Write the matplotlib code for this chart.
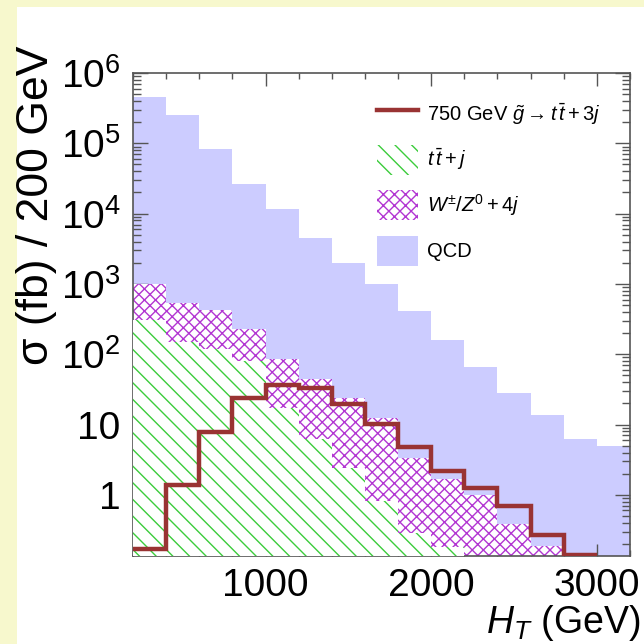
import numpy as np
import matplotlib
matplotlib.use("Agg")
import matplotlib.pyplot as plt
from matplotlib.patches import Rectangle, Patch
from matplotlib.lines import Line2D
from matplotlib.ticker import FixedLocator, NullFormatter

plt.rcParams["font.family"] = ["Liberation Sans", "DejaVu Sans"]
plt.rcParams["mathtext.fontset"] = "custom"
plt.rcParams["mathtext.rm"] = "Liberation Sans"
plt.rcParams["mathtext.it"] = "Liberation Sans:italic"
plt.rcParams["mathtext.bf"] = "Liberation Sans:bold"
plt.rcParams["hatch.linewidth"] = 1.0

# H_T bins (GeV), 200 GeV wide
ht_edges = [200, 400, 600, 800, 1000, 1200, 1400, 1600, 1800, 2000,
            2200, 2400, 2600, 2800, 3000, 3200]

# cross sections per bin (fb / 200 GeV)
qcd = [4.5e5, 2.5e5, 8.3e4, 2.65e4, 1.16e4, 4.5e3, 2.0e3, 1.0e3,
       4.1e2, 1.6e2, 65, 28, 13.6, 6.2, 5.0]
wz_4j = [1.0e3, 5.3e2, 4.3e2, 2.25e2, 85, 44, 23.5, 12.4, 3.3, 1.7,
         0.98, 0.39, 0.19]
ttbar_j = [3.1e2, 1.5e2, 1.2e2, 80, 17, 6.3, 2.4, 0.83, 0.29, 0.18]
gluino_750 = [0.17, 1.4, 7.8, 24, 37, 33, 19.3, 10.1, 4.8, 2.2,
              1.24, 0.70, 0.27, 0.138]

c_qcd = "#ccccff"
c_wz = "#b236d2"
c_tt = "#3ccc3c"
c_sig = "#993333"
c_axis = "#555555"

fig = plt.figure(figsize=(6.44, 6.44), dpi=100)
fig.patch.set_facecolor("#f7f8cd")
fig.add_artist(Rectangle((17 / 644, 0), 1, 1 - 7 / 644, transform=fig.transFigure,
                         facecolor="white", edgecolor="none", zorder=-1))

ax = fig.add_axes([133 / 644, 88 / 644, 497 / 644, 483 / 644])
ax.set_yscale("log")

edges = np.array(ht_edges, dtype=float)
base = 1e-3
ax.stairs(qcd, edges, baseline=base, fill=True, facecolor=c_qcd,
          edgecolor="none", zorder=1)
ax.stairs(wz_4j, edges[:len(wz_4j) + 1], baseline=base, fill=True,
          facecolor="white", edgecolor=c_wz, hatch="xxx", linewidth=0, zorder=2)
ax.stairs(ttbar_j, edges[:len(ttbar_j) + 1], baseline=base, fill=True,
          facecolor="white", edgecolor=c_tt, hatch="\\\\", linewidth=0, zorder=3)
ax.stairs(gluino_750, edges[:len(gluino_750) + 1], baseline=None,
          color=c_sig, linewidth=3.2, zorder=4)

ax.set_xlim(200, 3200)
ax.set_ylim(0.135, 1e6)

# ROOT-like axis: ticks inside on all four sides
for s in ax.spines.values():
    s.set_color(c_axis)
    s.set_linewidth(1.2)
ax.set_xticks([1000, 2000, 3000])
ax.set_xticklabels(["1000", "2000", "3000"])
ax.xaxis.set_minor_locator(FixedLocator([200 * k for k in range(1, 17)]))
yt = [1, 10, 1e2, 1e3, 1e4, 1e5, 1e6]
ax.yaxis.set_major_locator(FixedLocator(yt))
ax.set_yticklabels(["1", "10", r"$\mathregular{10^{2}}$", r"$\mathregular{10^{3}}$",
                    r"$\mathregular{10^{4}}$", r"$\mathregular{10^{5}}$",
                    r"$\mathregular{10^{6}}$"])
ax.yaxis.set_minor_locator(FixedLocator(
    [m * 10.0 ** d for d in range(-1, 6) for m in range(2, 10)]))
ax.yaxis.set_minor_formatter(NullFormatter())
ax.tick_params(which="both", direction="in", top=True, right=True,
               color=c_axis, width=1.0, labelsize=28)
ax.tick_params(axis="x", which="major", length=9, pad=9)
ax.tick_params(axis="x", which="minor", length=4.5)
ax.tick_params(axis="y", which="major", length=11, pad=9)
ax.tick_params(axis="y", which="minor", length=5.5)

fig.text(37 / 644, 1 - 46 / 644, "σ (fb) / 200 GeV", rotation=90,
         ha="center", va="top", fontsize=32)
fig.text(640 / 644, 1 - 623 / 644, r"$H_{T}$ (GeV)", ha="right",
         va="center", fontsize=27)

handles = [
    Line2D([], [], color=c_sig, linewidth=3.2),
    Patch(facecolor="white", edgecolor=c_tt, hatch="\\\\", linewidth=0),
    Patch(facecolor="white", edgecolor=c_wz, hatch="xxx", linewidth=0),
    Patch(facecolor=c_qcd, edgecolor="none"),
]
labels = [r"750 GeV $\tilde{g}\rightarrow t\,\bar{t}+3j$",
          r"$t\,\bar{t}+j$",
          r"$W^{\pm}/Z^{0}+4j$",
          "QCD"]
ax.legend(handles, labels, loc="upper left", bbox_to_anchor=(0.475, 0.962),
          frameon=False, fontsize=14.5, handlelength=2.05, handleheight=1.9,
          labelspacing=0.78, handletextpad=0.45, borderaxespad=0)

fig.savefig("out.png", dpi=100)
